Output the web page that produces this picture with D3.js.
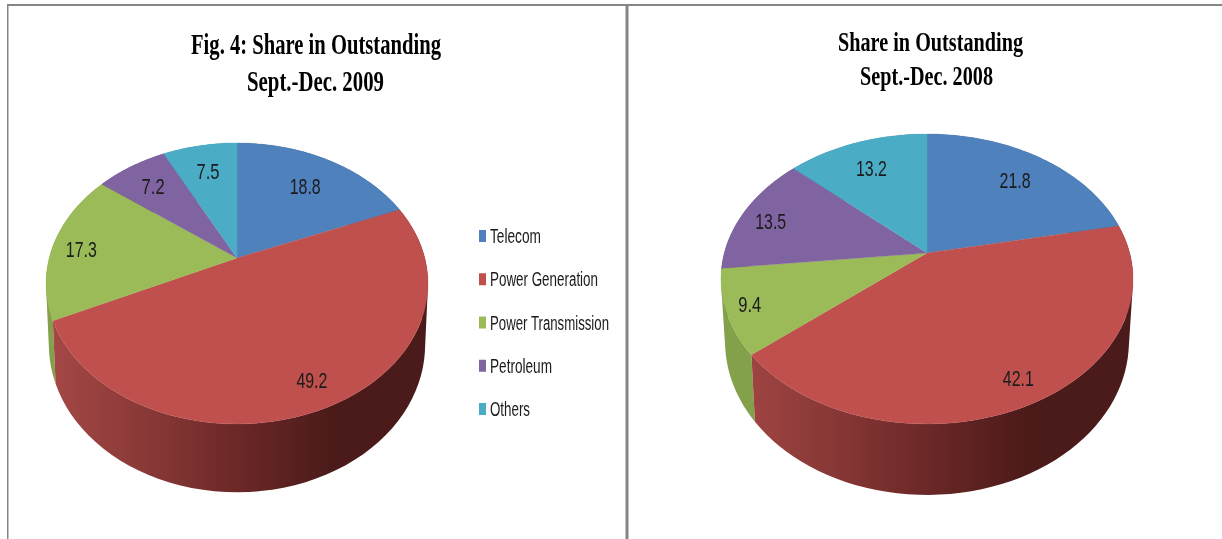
<!DOCTYPE html>
<html>
<head>
<meta charset="utf-8">
<style>html,body{margin:0;padding:0;background:#fff;overflow:hidden}svg{display:block}</style>
<script src="https://cdn.jsdelivr.net/npm/d3@7/dist/d3.min.js"></script>
</head>
<body>
<script>
const categories = ["Telecom", "Power Generation", "Power Transmission", "Petroleum", "Others"];
const values2009 = [18.8, 49.2, 17.3, 7.2, 7.5];
const values2008 = [21.8, 42.1, 9.4, 13.5, 13.2];
const titles2009 = ["Fig. 4: Share in Outstanding", "Sept.-Dec. 2009"];
const titles2008 = ["Share in Outstanding", "Sept.-Dec. 2008"];
const topColors = ["#4f81bd", "#c0504d", "#9bbb59", "#8064a2", "#4bacc6"];

const W = 1222, H = 539;
const svg = d3.select("body").append("svg").attr("width", W).attr("height", H);
const defs = svg.append("defs");
defs.append("filter").attr("id", "soft").attr("x", "-5%").attr("y", "-20%").attr("width", "110%").attr("height", "140%")
  .append("feGaussianBlur").attr("stdDeviation", 0.4);

// frame
const frame = svg.append("g").attr("fill", "#858585");
frame.append("rect").attr("x", 7).attr("y", 4).attr("width", W - 7).attr("height", 2);
frame.append("rect").attr("x", 7).attr("y", 4).attr("width", 1.5).attr("height", H - 4);
frame.append("rect").attr("x", 625.5).attr("y", 4).attr("width", 3).attr("height", H - 4);

const pieGen = d3.pie().sort(null).value(d => d);
const sideFont = "'Liberation Sans Narrow','Liberation Sans',sans-serif";

function drawChart(cfg, idx) {
  const k = (cfg.front - cfg.back) / (cfg.front + cfg.back);
  const b = cfg.front * (1 - k);
  // perspective projection of a disc point at polar (r, angle clockwise from 12 o'clock)
  const proj = (r, t) => {
    const u = r * Math.sin(t), v = -r * Math.cos(t), den = 1 - k * v;
    return [cfg.cx + cfg.a * u / den, cfg.cy + b * v / den];
  };
  const projBase = (t) => {
    const [x, y] = proj(1, t);
    return [cfg.cx + (x - cfg.cx) * cfg.baseX, cfg.cy + (y - cfg.cy) * cfg.baseY + cfg.baseOff];
  };
  const line = d3.line();
  const samples = (s, e) => d3.range(0, 61).map(i => s + (e - s) * i / 60);
  const arcs = pieGen(cfg.values);
  const g = svg.append("g");

  const grad = defs.append("linearGradient").attr("id", "wall" + idx)
    .attr("gradientUnits", "userSpaceOnUse")
    .attr("x1", cfg.cx - cfg.a).attr("x2", cfg.cx + cfg.a).attr("y1", 0).attr("y2", 0);
  [[0, "#a54846"], [0.3, "#843634"], [0.5, "#6b2827"], [0.75, "#4b1b1a"], [1, "#4a1b1a"]]
    .forEach(([o, c]) => grad.append("stop").attr("offset", o).attr("stop-color", c));
  const wallFill = ["#3f5f86", "url(#wall" + idx + ")", "#83a04a", "#5f4a79", "#38809a"];

  // walls: one oriented quad per angular step, so the swept silhouette fills without holes; back slices first
  const midDepth = d => -Math.cos((d.startAngle + d.endAngle) / 2);
  g.selectAll("path.wall").data(arcs.slice().sort((p, q) => d3.ascending(midDepth(p), midDepth(q))))
    .join("path").attr("class", "wall")
    .attr("fill", d => wallFill[d.index])
    .attr("d", d => d3.pairs(samples(d.startAngle, d.endAngle)).map(([s, e]) => {
      const quad = [proj(1, s), proj(1, e), projBase(e), projBase(s)];
      return line(d3.polygonArea(quad) < 0 ? quad.reverse() : quad) + "Z";
    }).join(""));
  // top faces
  g.selectAll("path.top").data(arcs).join("path").attr("class", "top")
    .attr("fill", d => topColors[d.index])
    .attr("stroke", d => topColors[d.index]).attr("stroke-width", 0.3)
    .attr("d", d => line([proj(0, 0)].concat(samples(d.startAngle, d.endAngle).map(t => proj(1, t)))) + "Z");
  // value labels
  g.selectAll("text.val").data(arcs).join("text").attr("class", "val")
    .attr("filter", "url(#soft)")
    .attr("text-anchor", "middle").attr("dominant-baseline", "central")
    .attr("font-family", sideFont).attr("font-size", 22).attr("fill", "#1a1a1a")
    .attr("lengthAdjust", "spacingAndGlyphs")
    .attr("textLength", d => String(d.data).length > 3 ? 31 : 23)
    .attr("x", d => proj(cfg.labelR[d.index], (d.startAngle + d.endAngle) / 2)[0] + cfg.labelDx[d.index])
    .attr("y", d => proj(cfg.labelR[d.index], (d.startAngle + d.endAngle) / 2)[1] + cfg.labelDy[d.index])
    .text(d => d.data.toFixed(1));
  // titles
  cfg.titles.forEach((t, i) => {
    svg.append("text").attr("filter", "url(#soft)")
      .attr("x", cfg.titleX[i]).attr("y", cfg.titleY[i]).attr("text-anchor", "middle")
      .attr("font-family", "'Liberation Serif',serif").attr("font-weight", "bold")
      .attr("font-size", cfg.titleSize).attr("fill", "#000")
      .attr("textLength", cfg.titleW[i]).attr("lengthAdjust", "spacingAndGlyphs").text(t);
  });
}

drawChart({values: values2009, titles: titles2009, cx: 237, cy: 258, a: 187.8, front: 166, back: 115,
  baseX: 0.985, baseY: 1.05, baseOff: 60, labelR: [0.7, 0.85, 0.83, 0.77, 0.75],
  labelDx: [2, 0, -3, 0, 0], labelDy: [0, -1, 3, 1, 1],
  titleX: [316, 315.5], titleY: [54, 91], titleW: [250, 137], titleSize: 30}, 0);
drawChart({values: values2008, titles: titles2008, cx: 927, cy: 253, a: 202.7, front: 171, back: 119,
  baseX: 0.98, baseY: 1.058, baseOff: 61, labelR: [0.75, 0.88, 0.9, 0.85, 0.75],
  labelDx: [1, 1, 2, 0, -1], labelDy: [1, -4, -1, 4, 1],
  titleX: [930.5, 926.5], titleY: [51, 85], titleW: [185, 133], titleSize: 28}, 1);

// legend
const legendW = [51, 108, 119, 62, 40];
const legendY = d3.scalePoint().domain(categories).range([236, 409]);
const legend = svg.append("g").selectAll("g").data(categories).join("g")
  .attr("transform", d => `translate(479,${legendY(d)})`);
legend.append("rect").attr("x", 0).attr("y", -6).attr("width", 7).attr("height", 12)
  .attr("fill", (d, i) => topColors[i]);
legend.append("text").attr("filter", "url(#soft)").attr("x", 11).attr("dominant-baseline", "central")
  .attr("font-family", sideFont).attr("font-size", 20).attr("fill", "#1a1a1a")
  .attr("textLength", (d, i) => legendW[i]).attr("lengthAdjust", "spacingAndGlyphs").text(d => d);
</script>
</body>
</html>
